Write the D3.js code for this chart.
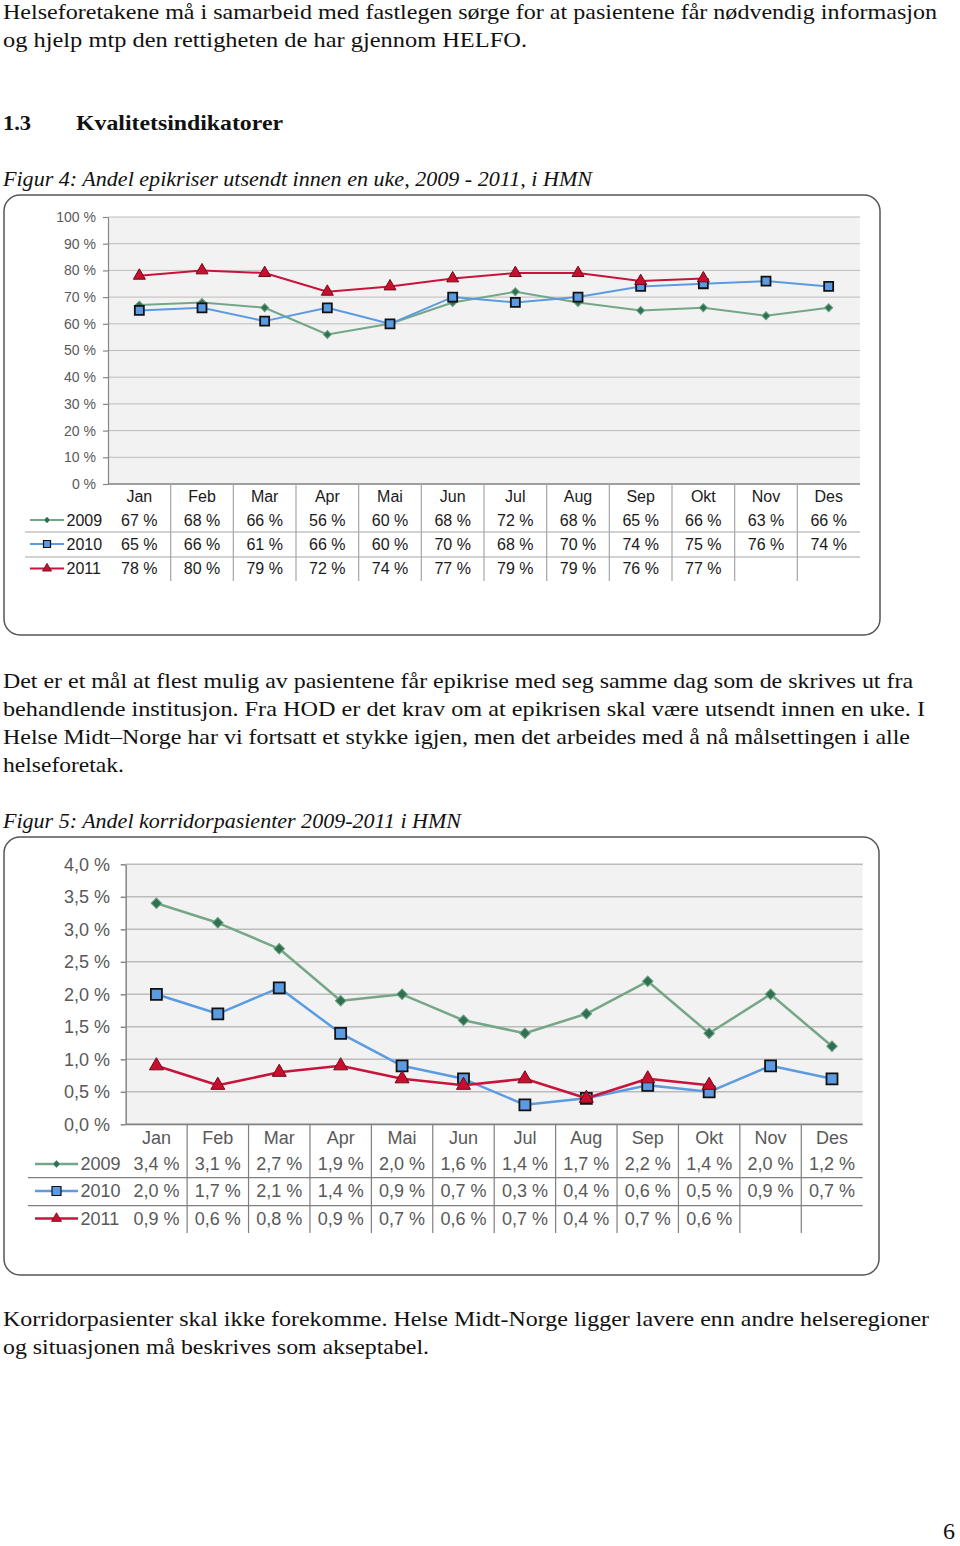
<!DOCTYPE html>
<html>
<head>
<meta charset="utf-8">
<script src="https://cdn.jsdelivr.net/npm/d3@7"></script>
<style>
  html, body { margin: 0; padding: 0; background: #fff; }
  svg { display: block; }
</style>
</head>
<body>
<svg id="page" width="960" height="1546"></svg>
<script>
// ---------------- DATA ----------------
const months = ["Jan", "Feb", "Mar", "Apr", "Mai", "Jun", "Jul", "Aug", "Sep", "Okt", "Nov", "Des"];
const years = ["2009", "2010", "2011"];

// Figur 4: Andel epikriser utsendt innen en uke (%)
const epi2009 = [67, 68, 66, 56, 60, 68, 72, 68, 65, 66, 63, 66];
const epi2010 = [65, 66, 61, 66, 60, 70, 68, 70, 74, 75, 76, 74];
const epi2011 = [78, 80, 79, 72, 74, 77, 79, 79, 76, 77];
const epiTicks = [0, 10, 20, 30, 40, 50, 60, 70, 80, 90, 100];

// Figur 5: Andel korridorpasienter (%)
const kor2009 = [3.4, 3.1, 2.7, 1.9, 2.0, 1.6, 1.4, 1.7, 2.2, 1.4, 2.0, 1.2];
const kor2010 = [2.0, 1.7, 2.1, 1.4, 0.9, 0.7, 0.3, 0.4, 0.6, 0.5, 0.9, 0.7];
const kor2011 = [0.9, 0.6, 0.8, 0.9, 0.7, 0.6, 0.7, 0.4, 0.7, 0.6];
const korTicks = [0, 0.5, 1.0, 1.5, 2.0, 2.5, 3.0, 3.5, 4.0];

// ---------------- PAGE ----------------
const svg = d3.select("#page");
const serif = "'Liberation Serif', 'Times New Roman', serif";
const sans = "'Liberation Sans', Arial, sans-serif";

function textLine(str, x, y, w, opts = {}) {
  const t = svg.append("text")
    .attr("x", x).attr("y", y)
    .attr("font-family", serif)
    .attr("font-size", opts.size || 22)
    .attr("fill", opts.fill || "#111")
    .text(str);
  if (opts.bold) t.attr("font-weight", "bold");
  if (opts.italic) t.attr("font-style", "italic");
  if (w) t.attr("textLength", w).attr("lengthAdjust", "spacingAndGlyphs");
  if (opts.anchor) t.attr("text-anchor", opts.anchor);
  return t;
}

textLine("Helseforetakene må i samarbeid med fastlegen sørge for at pasientene får nødvendig informasjon", 3, 19, 934);
textLine("og hjelp mtp den rettigheten de har gjennom HELFO.", 3, 47, 524);
textLine("1.3", 3, 130, 28, { bold: true });
textLine("Kvalitetsindikatorer", 76, 130, 207, { bold: true });
textLine("Figur 4: Andel epikriser utsendt innen en uke, 2009 - 2011, i HMN", 3, 186, 589, { italic: true });

textLine("Det er et mål at flest mulig av pasientene får epikrise med seg samme dag som de skrives ut fra", 3, 688, 910);
textLine("behandlende institusjon. Fra HOD er det krav om at epikrisen skal være utsendt innen en uke. I", 3, 716, 922);
textLine("Helse Midt–Norge har vi fortsatt et stykke igjen, men det arbeides med å nå målsettingen i alle", 3, 744, 907);
textLine("helseforetak.", 3, 772, 121);
textLine("Figur 5: Andel korridorpasienter 2009-2011 i HMN", 3, 828, 458, { italic: true });

textLine("Korridorpasienter skal ikke forekomme. Helse Midt-Norge ligger lavere enn andre helseregioner", 3, 1326, 926);
textLine("og situasjonen må beskrives som akseptabel.", 3, 1354, 426);
textLine("6", 955, 1539, null, { size: 24, anchor: "end" });

// ---------------- CHARTS ----------------
const seriesStyle = [
  { line: "#76a688", fill: "#2f7052", stroke: "#6a9f80", shape: "diamond" },
  { line: "#5b9be2", fill: "#5b9be2", stroke: "#111111", shape: "square" },
  { line: "#c8143c", fill: "#c8102e", stroke: "#6e0a1a", shape: "triangle" }
];

function markerPath(shape, s) {
  if (shape === "square") return d3.symbol(d3.symbolSquare, s * s)();
  if (shape === "diamond") return d3.symbol(d3.symbolSquare, (s * s) / 2)();
  return d3.symbol(d3.symbolTriangle, Math.sqrt(3) / 4 * s * s)();
}

function drawChart(o) {
  const g = svg.append("g");

  g.append("rect")
    .attr("x", o.box[0]).attr("y", o.box[1])
    .attr("width", o.box[2]).attr("height", o.box[3])
    .attr("rx", 16).attr("ry", 16)
    .attr("fill", "#fff").attr("stroke", "#555").attr("stroke-width", 1.5);

  const x = d3.scaleBand().domain(months).range([o.left, o.right]);
  const y = d3.scaleLinear().domain([0, o.max]).range([o.bottom, o.top]);
  const cx = i => x(months[i]) + x.bandwidth() / 2;

  // plot area
  g.append("rect")
    .attr("x", o.left).attr("y", o.top)
    .attr("width", o.right - o.left).attr("height", o.bottom - o.top)
    .attr("fill", "#f2f2f2");

  // gridlines
  g.append("g").selectAll("line")
    .data(o.ticks.filter(d => d > 0))
    .join("line")
    .attr("x1", o.left).attr("x2", o.right)
    .attr("y1", d => y(d)).attr("y2", d => y(d))
    .attr("stroke", "#bcbcbc").attr("stroke-width", o.gridW);

  // y axis
  const ax = g.append("g")
    .attr("transform", `translate(${o.left},0)`)
    .call(d3.axisLeft(y).tickValues(o.ticks).tickFormat(o.tickFmt)
      .tickSize(5).tickSizeOuter(0).tickPadding(o.tickPad));
  ax.select(".domain").attr("stroke", "#868686").attr("stroke-width", o.axisW);
  ax.selectAll(".tick line").attr("stroke", "#868686").attr("stroke-width", o.axisW);
  ax.selectAll(".tick text")
    .attr("font-family", sans).attr("font-size", o.tickFs).attr("fill", "#595959");

  // bottom axis line
  g.append("line")
    .attr("x1", o.left).attr("x2", o.right)
    .attr("y1", o.bottom).attr("y2", o.bottom)
    .attr("stroke", "#808080").attr("stroke-width", o.axisW + 0.3);

  // data table lines
  g.append("g").selectAll("line")
    .data(months.slice(1))
    .join("line")
    .attr("x1", d => x(d)).attr("x2", d => x(d))
    .attr("y1", o.bottom).attr("y2", o.tableBottom)
    .attr("stroke", o.tableLine).attr("stroke-width", 1.2);
  g.append("g").selectAll("line")
    .data(o.rowLines)
    .join("line")
    .attr("x1", o.tableLeft).attr("x2", o.right)
    .attr("y1", d => d).attr("y2", d => d)
    .attr("stroke", o.tableLine).attr("stroke-width", 1.2);

  // header
  g.append("g").selectAll("text")
    .data(months)
    .join("text")
    .attr("x", d => x(d) + x.bandwidth() / 2)
    .attr("y", o.headerY).attr("dy", "0.35em")
    .attr("text-anchor", "middle")
    .attr("font-family", sans).attr("font-size", o.tableFs).attr("fill", o.tableColor)
    .text(d => d);

  const line = d3.line().x((d, i) => cx(i)).y(d => y(d));

  o.series.forEach((vals, si) => {
    const st = seriesStyle[si];
    const ry = o.rowY[si];

    // table values
    g.append("g").selectAll("text")
      .data(vals)
      .join("text")
      .attr("x", (d, i) => cx(i))
      .attr("y", ry).attr("dy", "0.35em")
      .attr("text-anchor", "middle")
      .attr("font-family", sans).attr("font-size", o.tableFs).attr("fill", o.tableColor)
      .text(o.valFmt);

    // legend key
    g.append("line")
      .attr("x1", o.keyX1).attr("x2", o.keyX2)
      .attr("y1", ry).attr("y2", ry)
      .attr("stroke", st.line).attr("stroke-width", o.lineW);
    g.append("path")
      .attr("d", markerPath(st.shape, o.keySize[si]))
      .attr("transform", `translate(${(o.keyX1 + o.keyX2) / 2},${ry})` + (st.shape === "diamond" ? " rotate(45)" : ""))
      .attr("fill", st.fill).attr("stroke", st.stroke).attr("stroke-width", st.shape === "square" ? 1.2 : 0.8);
    g.append("text")
      .attr("x", o.keyLabelX).attr("y", ry).attr("dy", "0.35em")
      .attr("font-family", sans).attr("font-size", o.tableFs).attr("fill", o.tableColor)
      .text(years[si]);

    // series line
    g.append("path")
      .datum(vals)
      .attr("d", line)
      .attr("fill", "none")
      .attr("stroke", st.line).attr("stroke-width", o.lineW)
      .attr("stroke-linejoin", "round");

    // markers
    g.append("g").selectAll("path")
      .data(vals)
      .join("path")
      .attr("d", markerPath(st.shape, o.markSize[si]))
      .attr("transform", (d, i) => `translate(${cx(i)},${y(d)})` + (st.shape === "diamond" ? " rotate(45)" : ""))
      .attr("fill", st.fill).attr("stroke", st.stroke)
      .attr("stroke-width", st.shape === "square" ? 1.8 : 1);
  });
}

drawChart({
  box: [4, 195, 876, 440],
  left: 108, right: 860, top: 217, bottom: 484, max: 100,
  ticks: epiTicks,
  tickFs: 14, tickPad: 7,
  tickFmt: d => d + " %",
  gridW: 1, axisW: 1.2, lineW: 2,
  series: [epi2009, epi2010, epi2011],
  valFmt: d => d + " %",
  headerY: 496.5, rowY: [520, 544, 568.5], rowLines: [532, 557],
  tableLeft: 25, tableBottom: 581, tableFs: 16, tableColor: "#1a1a1a", tableLine: "#a6a6a6",
  keyX1: 30, keyX2: 64, keyLabelX: 66.5,
  markSize: [8, 9, 12], keySize: [6, 7, 9]
});

drawChart({
  box: [4, 837, 875, 438],
  left: 125.7, right: 862.7, top: 864.3, bottom: 1124.3, max: 4,
  ticks: korTicks,
  tickFmt: d => d3.format(".1f")(d).replace(".", ",") + " %",
  tickFs: 18, tickPad: 10.7,
  gridW: 1.5, axisW: 1.5, lineW: 2.5,
  series: [kor2009, kor2010, kor2011],
  valFmt: d => d3.format(".1f")(d).replace(".", ",") + " %",
  headerY: 1137.5, rowY: [1164, 1191, 1218.5], rowLines: [1177.7, 1205.7],
  tableLeft: 28, tableBottom: 1233, tableFs: 18, tableColor: "#595959", tableLine: "#7f7f7f",
  keyX1: 35, keyX2: 78, keyLabelX: 80.5,
  markSize: [10.5, 11, 14], keySize: [7, 9, 10]
});
</script>
</body>
</html>
